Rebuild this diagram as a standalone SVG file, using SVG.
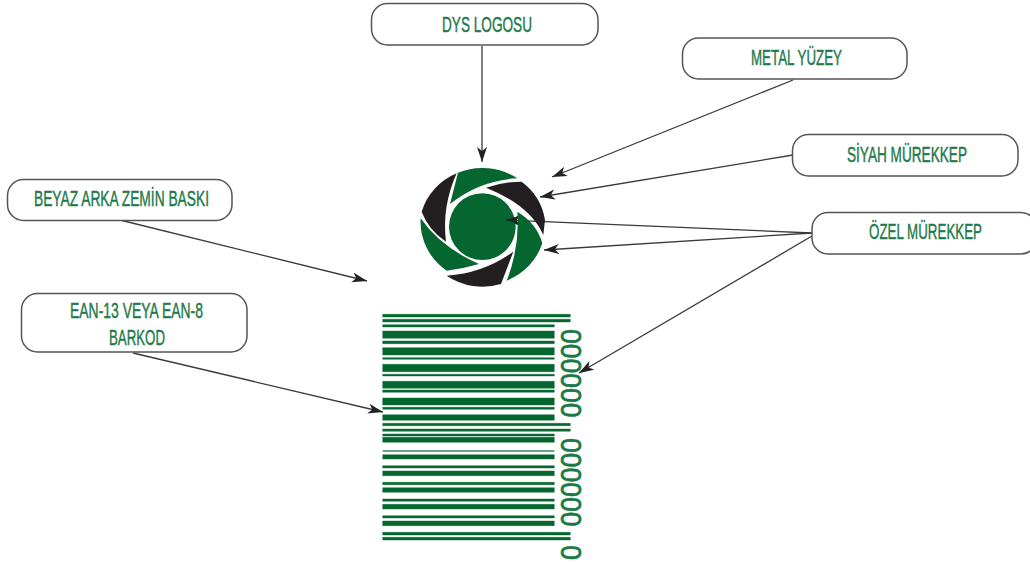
<svg xmlns="http://www.w3.org/2000/svg" width="1030" height="562" viewBox="0 0 1030 562">
<style>
.box{fill:#fff;stroke:#555;stroke-width:1.5}
.lbl{font-family:"Liberation Sans Narrow","Liberation Sans",sans-serif;font-size:17px;fill:#1f7a4d;stroke:#1f7a4d;stroke-width:.35}
.c{fill:none;stroke:#3a3a3a;stroke-width:1.3;marker-end:url(#ah)}
.g{fill:#05662f}.k{fill:#231f20}
.b{fill:#05662f;stroke:#05662f;stroke-width:.4}
.z{font-family:"Liberation Sans",sans-serif;font-size:29px;fill:#1a7a45;stroke:#1a7a45;stroke-width:.7}
</style>
<defs>
<marker id="ah" markerUnits="userSpaceOnUse" markerWidth="18" markerHeight="12" refX="15" refY="5" orient="auto" viewBox="0 0 18 10">
<path d="M0 0L15 5L0 10L4 5Z" fill="#222"/>
</marker>
</defs>
<rect width="1030" height="562" fill="#fff"/>
<g id="connectors">
<path class="c" d="M482 46V162"/>
<path class="c" d="M793 80L552 177"/>
<path class="c" d="M793 155L540 197"/>
<path class="c" d="M812 233L505 220"/>
<path class="c" d="M812 233L544 250"/>
<path class="c" d="M812 236L579 373"/>
<path class="c" d="M120 220L367 281"/>
<path class="c" d="M133 353L383 412"/>
</g>
<g id="logo" transform="translate(400 150) scale(.33333)">
<path class="g" d="M150 162L174 68A187 180 0 0 1 352 85Q240 90 150 162Z"/>
<path class="k" d="M258 113Q310 95 365 95A187 180 0 0 1 435 210L430 255Q390 165 258 113Z"/>
<path class="g" d="M352 185Q410 220 427 280A187 180 0 0 1 320 392Q360 290 352 185Z"/>
<path class="k" d="M340 305L303 402A187 180 0 0 1 140 377Q250 370 340 305Z"/>
<path class="g" d="M237 342Q190 356 140 362A187 180 0 0 1 62 205Q120 290 237 342Z"/>
<path class="k" d="M138 275Q85 240 65 185A187 180 0 0 1 170 70Q125 170 138 275Z"/>
<circle class="g" cx="247" cy="230" r="100"/>
</g>
<path d="M505 220L519 216L516 220L519 224Z" fill="#222"/>
<g id="barcode" class="b">
<path d="M382.700 314.300H570.300V317H382.700ZM382.700 319.300H570.300V322H382.700ZM382.700 423.300H570.300V425.700H382.700ZM382.700 429H570.300V431.300H382.700ZM382.700 532.300H570.300V535H382.700ZM382.700 537.300H570.300V540H382.700Z"/>
<path d="M382.700 324.700H554.300V327H382.700ZM382.700 331H554.300V338.300H382.700ZM382.700 341H554.300V343.700H382.700ZM382.700 347.700H554.300V355H382.700ZM382.700 357.700H554.300V359.300H382.700ZM382.700 364.300H554.300V371.700H382.700ZM382.700 374.300H554.300V376H382.700ZM382.700 381.300H554.300V388.300H382.700ZM382.700 390H554.300V392.300H382.700ZM382.700 398H554.300V405H382.700ZM382.700 407.300H554.300V409.300H382.700ZM382.700 414.700H554.300V420.300H382.700ZM382.700 434H554.300V436H382.700ZM382.700 437.300H554.300V442.300H382.700ZM382.700 454.700H554.300V459H382.700ZM382.700 465.700H554.300V468H382.700ZM382.700 471H554.300V475.700H382.700ZM382.700 482.300H554.300V484.700H382.700ZM382.700 487.700H554.300V492.300H382.700ZM382.700 499H554.300V501.300H382.700ZM382.700 504.300H554.300V509H382.700ZM382.700 515.700H554.300V518H382.700ZM382.700 521H554.300V525.700H382.700Z"/>
<rect x="382.700" y="450" width="171.600" height="2" opacity=".6" stroke="none"/>
<text class="z" transform="translate(560.500 329) rotate(90)" textLength="88.500" lengthAdjust="spacingAndGlyphs">000000</text>
<text class="z" transform="translate(560.500 438) rotate(90)" textLength="88.500" lengthAdjust="spacingAndGlyphs">000000</text>
<text class="z" transform="translate(560.500 545.300) rotate(90)" textLength="14.700" lengthAdjust="spacingAndGlyphs">0</text>
</g>
<g id="n-dys"><rect class="box" x="371.500" y="3.500" width="226.500" height="41.500" rx="16"/><text class="lbl" transform="translate(442 32) scale(1 1.35)" textLength="90" lengthAdjust="spacingAndGlyphs">DYS LOGOSU</text></g>
<g id="n-metal"><rect class="box" x="682.500" y="38" width="224.500" height="41" rx="16"/><text class="lbl" transform="translate(751 65) scale(1 1.35)" textLength="91" lengthAdjust="spacingAndGlyphs">METAL YÜZEY</text></g>
<g id="n-siyah"><rect class="box" x="792.500" y="134.500" width="225.500" height="41.500" rx="16"/><text class="lbl" transform="translate(847 162) scale(1 1.35)" textLength="120" lengthAdjust="spacingAndGlyphs">SİYAH MÜREKKEP</text></g>
<g id="n-ozel"><rect class="box" x="812" y="212.500" width="225" height="41.500" rx="16"/><text class="lbl" transform="translate(869 239) scale(1 1.35)" textLength="113" lengthAdjust="spacingAndGlyphs">ÖZEL MÜREKKEP</text></g>
<g id="n-beyaz"><rect class="box" x="7.500" y="179.500" width="224.500" height="41" rx="16"/><text class="lbl" transform="translate(34 206) scale(1 1.35)" textLength="175" lengthAdjust="spacingAndGlyphs">BEYAZ ARKA ZEMİN BASKI</text></g>
<g id="n-ean"><rect class="box" x="21.500" y="293.500" width="225.500" height="58.500" rx="16"/><text class="lbl" transform="translate(70 318) scale(1 1.35)" textLength="133" lengthAdjust="spacingAndGlyphs">EAN-13 VEYA EAN-8</text><text class="lbl" transform="translate(109 345) scale(1 1.35)" textLength="56" lengthAdjust="spacingAndGlyphs">BARKOD</text></g>
</svg>
